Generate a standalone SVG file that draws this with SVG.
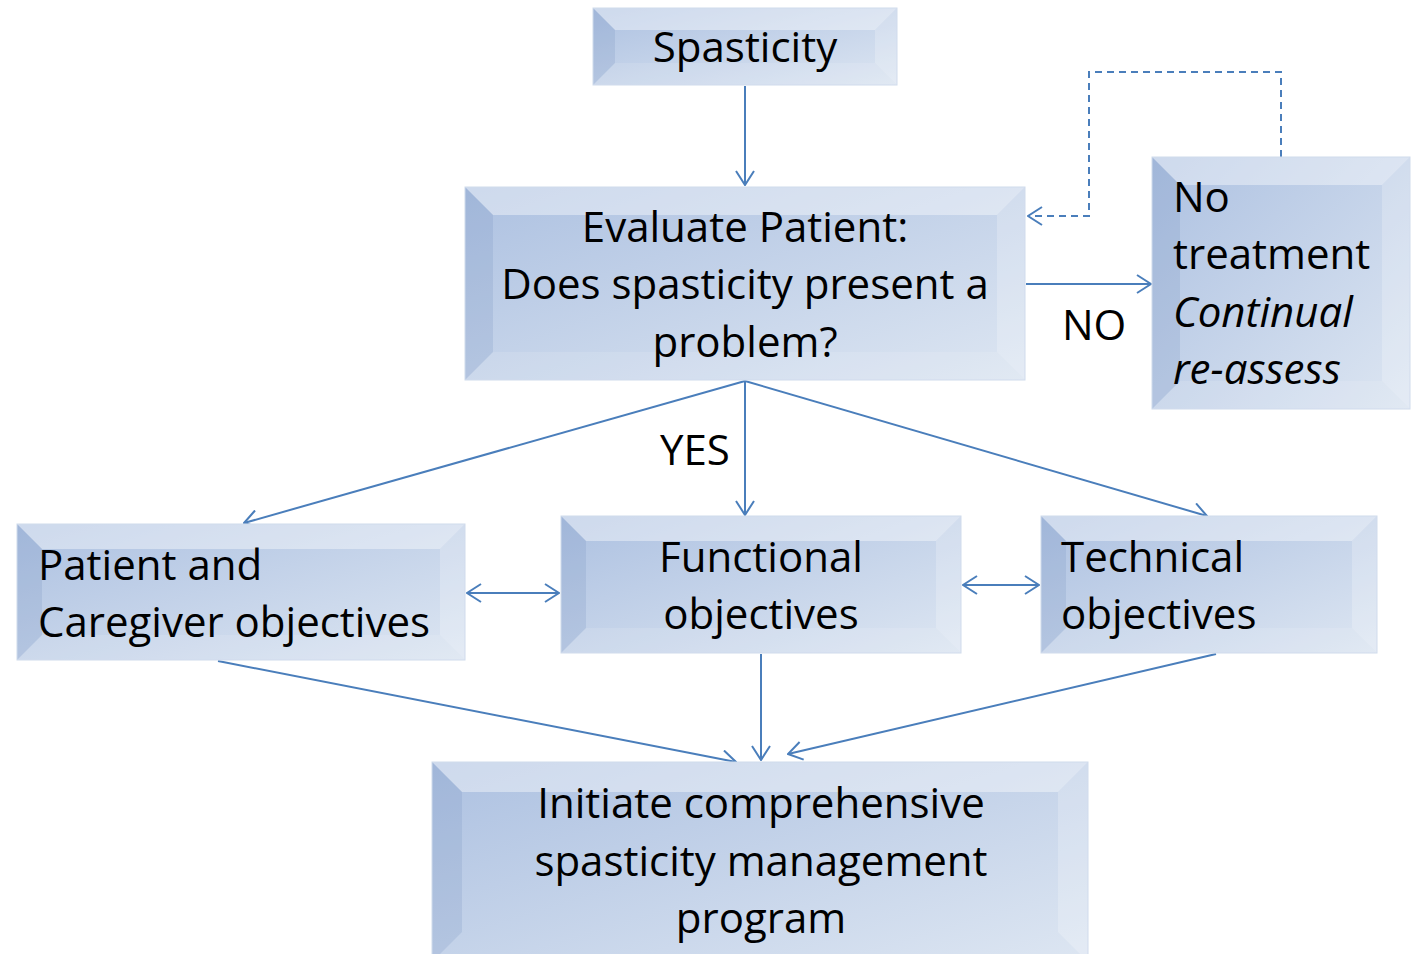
<svg xmlns="http://www.w3.org/2000/svg" width="1416" height="954" viewBox="0 0 1416 954">
<style>
.face{fill:url(#g)}
.top{fill:#ffffff;fill-opacity:0.4}
.left{fill:#7890bd;fill-opacity:0.22}
.right{fill:#ffffff;fill-opacity:0.22}
.bot{fill:#ffffff;fill-opacity:0.12}
.edge{fill:none;stroke:#d0dbec;stroke-width:1}
text{font-family:"Open Sans","Liberation Sans",sans-serif;font-size:42px;fill:#000}
.c{text-anchor:middle}
.it{font-style:italic}
.ln{fill:none;stroke:#4a7ebb;stroke-width:2}
.dash{stroke-dasharray:7 5}
</style>
<defs>
<linearGradient id="g" x1="0" y1="0" x2="1" y2="1">
<stop offset="0" stop-color="#adc1e1"/>
<stop offset="1" stop-color="#dde6f2"/>
</linearGradient>
<marker id="a" viewBox="0 0 16 20" refX="15" refY="10" markerWidth="16" markerHeight="20" markerUnits="userSpaceOnUse" orient="auto-start-reverse">
<path d="M1,1 L15,10 L1,19" fill="none" stroke="#4a7ebb" stroke-width="2"/>
</marker>
</defs>

<g id="connectors">
<line class="ln" x1="745" y1="86" x2="745" y2="185" marker-end="url(#a)"/>
<line class="ln" x1="1026" y1="284" x2="1151" y2="284" marker-end="url(#a)"/>
<polyline class="ln dash" points="1281,157 1281,72 1089,72 1089,216 1028,216" marker-end="url(#a)"/>
<line class="ln" x1="745" y1="381" x2="244" y2="523" marker-end="url(#a)"/>
<line class="ln" x1="745" y1="381" x2="745" y2="515" marker-end="url(#a)"/>
<line class="ln" x1="745" y1="381" x2="1207" y2="516" marker-end="url(#a)"/>
<line class="ln" x1="467" y1="593" x2="559" y2="593" marker-start="url(#a)" marker-end="url(#a)"/>
<line class="ln" x1="963" y1="585" x2="1039" y2="585" marker-start="url(#a)" marker-end="url(#a)"/>
<line class="ln" x1="218" y1="661" x2="736" y2="762" marker-end="url(#a)"/>
<line class="ln" x1="761" y1="654" x2="761" y2="760" marker-end="url(#a)"/>
<line class="ln" x1="1216" y1="654" x2="788" y2="754" marker-end="url(#a)"/>
</g>

<g id="spasticity">
<rect class="face" x="593" y="8" width="304" height="77"/>
<polygon class="top" points="593,8 897,8 875,30 615,30"/>
<polygon class="left" points="593,8 615,30 615,63 593,85"/>
<polygon class="right" points="897,8 897,85 875,63 875,30"/>
<polygon class="bot" points="593,85 615,63 875,63 897,85"/>
<rect class="edge" x="593" y="8" width="304" height="77"/>
<text class="c" x="745" y="62">Spasticity</text>
</g>

<g id="evaluate">
<rect class="face" x="465" y="187" width="560" height="193"/>
<polygon class="top" points="465,187 1025,187 997,215 493,215"/>
<polygon class="left" points="465,187 493,215 493,352 465,380"/>
<polygon class="right" points="1025,187 1025,380 997,352 997,215"/>
<polygon class="bot" points="465,380 493,352 997,352 1025,380"/>
<rect class="edge" x="465" y="187" width="560" height="193"/>
<text class="c" x="745" y="242">Evaluate Patient:</text>
<text class="c" x="745" y="299">Does spasticity present a</text>
<text class="c" x="745" y="357">problem?</text>
</g>

<g id="notreatment">
<rect class="face" x="1152" y="157" width="258" height="252"/>
<polygon class="top" points="1152,157 1410,157 1382,185 1180,185"/>
<polygon class="left" points="1152,157 1180,185 1180,381 1152,409"/>
<polygon class="right" points="1410,157 1410,409 1382,381 1382,185"/>
<polygon class="bot" points="1152,409 1180,381 1382,381 1410,409"/>
<rect class="edge" x="1152" y="157" width="258" height="252"/>
<text x="1173" y="212">No</text>
<text x="1173" y="269">treatment</text>
<text class="it" x="1173" y="327">Continual</text>
<text class="it" x="1173" y="384">re-assess</text>
</g>

<g id="patient">
<rect class="face" x="17" y="524" width="448" height="136"/>
<polygon class="top" points="17,524 465,524 440,549 42,549"/>
<polygon class="left" points="17,524 42,549 42,635 17,660"/>
<polygon class="right" points="465,524 465,660 440,635 440,549"/>
<polygon class="bot" points="17,660 42,635 440,635 465,660"/>
<rect class="edge" x="17" y="524" width="448" height="136"/>
<text x="38" y="580">Patient and</text>
<text x="38" y="637">Caregiver objectives</text>
</g>

<g id="functional">
<rect class="face" x="561" y="516" width="400" height="137"/>
<polygon class="top" points="561,516 961,516 936,541 586,541"/>
<polygon class="left" points="561,516 586,541 586,628 561,653"/>
<polygon class="right" points="961,516 961,653 936,628 936,541"/>
<polygon class="bot" points="561,653 586,628 936,628 961,653"/>
<rect class="edge" x="561" y="516" width="400" height="137"/>
<text class="c" x="761" y="572">Functional</text>
<text class="c" x="761" y="629">objectives</text>
</g>

<g id="technical">
<rect class="face" x="1041" y="516" width="336" height="137"/>
<polygon class="top" points="1041,516 1377,516 1352,541 1066,541"/>
<polygon class="left" points="1041,516 1066,541 1066,628 1041,653"/>
<polygon class="right" points="1377,516 1377,653 1352,628 1352,541"/>
<polygon class="bot" points="1041,653 1066,628 1352,628 1377,653"/>
<rect class="edge" x="1041" y="516" width="336" height="137"/>
<text x="1061" y="572">Technical</text>
<text x="1061" y="629">objectives</text>
</g>

<g id="initiate">
<rect class="face" x="432" y="762" width="656" height="200"/>
<polygon class="top" points="432,762 1088,762 1058,792 462,792"/>
<polygon class="left" points="432,762 462,792 462,932 432,962"/>
<polygon class="right" points="1088,762 1088,962 1058,932 1058,792"/>
<rect class="edge" x="432" y="762" width="656" height="200"/>
<text class="c" x="761" y="818">Initiate comprehensive</text>
<text class="c" x="761" y="876">spasticity management</text>
<text class="c" x="761" y="933">program</text>
</g>

<g id="labels">
<text x="1062" y="340">NO</text>
<text x="660" y="465">YES</text>
</g>
</svg>
